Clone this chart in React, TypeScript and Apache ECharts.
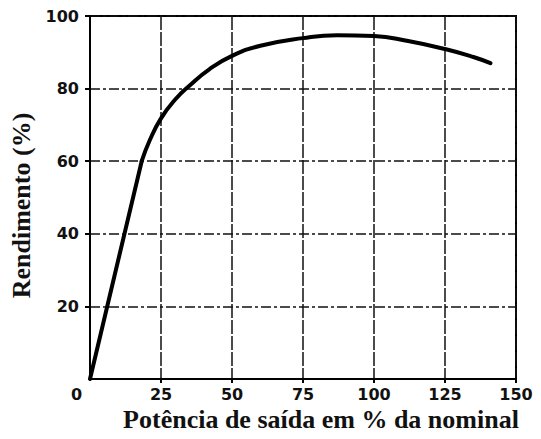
import React, { useEffect, useRef } from "react";
import * as echarts from "echarts";

const xTicks = [0, 25, 50, 75, 100, 125, 150];
const yTicks = [0, 20, 40, 60, 80, 100];
// straight rising portion
const potenciaReta = [0, 18.2];
const rendimentoReta = [0, 60];
// curved portion
const potenciaCurva = [18.2, 21, 25, 30, 35, 42, 50, 60, 75, 87, 100, 112, 125, 135, 141];
const rendimentoCurva = [60, 65.7, 71.8, 77, 80.8, 85.3, 89, 91.8, 93.9, 94.7, 94.5, 93.1, 90.9, 88.7, 87];

export default function App() {
  const ref = useRef<HTMLDivElement>(null);
  useEffect(() => {
    if (!ref.current) return;
    const chart = echarts.init(ref.current, undefined, { renderer: "svg" });
    const reta = potenciaReta.map((x, i) => [x, rendimentoReta[i]]);
    const curva = potenciaCurva.map((x, i) => [x, rendimentoCurva[i]]);
    chart.setOption({
      animation: false,
      backgroundColor: "#fff",
      grid: {
        left: 90,
        right: 25,
        top: 16,
        bottom: 60,
        show: true,
        borderColor: "#000",
        borderWidth: 2,
        backgroundColor: "transparent",
      },
      xAxis: {
        type: "value",
        min: 0,
        max: 150,
        interval: 25,
        name: "Potência de saída em % da nominal",
        nameLocation: "middle",
        nameGap: 24,
        nameTextStyle: {
          fontFamily: "Liberation Serif",
          fontWeight: "bold",
          fontSize: 26,
          color: "#111",
          verticalAlign: "top",
          padding: [0, 0, 0, 36],
        },
        axisLine: { show: true, lineStyle: { color: "#000", width: 2 } },
        axisTick: { show: true, length: 4, lineStyle: { color: "#000", width: 2 } },
        axisLabel: {
          margin: 7,
          color: "#111",
          fontFamily: "DejaVu Sans",
          fontWeight: "bold",
          fontSize: 16,
          showMinLabel: false,
          formatter: (v: number) => (xTicks.includes(v) ? String(v) : ""),
        },
        splitLine: { show: true, lineStyle: { color: "#111", width: 1.5, type: [14, 2] } },
      },
      yAxis: {
        type: "value",
        min: 0,
        max: 100,
        interval: 20,
        name: "Rendimento (%)",
        nameLocation: "middle",
        nameGap: 52,
        nameTextStyle: {
          fontFamily: "Liberation Serif",
          fontWeight: "bold",
          fontSize: 26,
          color: "#111",
          padding: [0, 16, 0, 0],
        },
        axisLine: { show: true, lineStyle: { color: "#000", width: 2 } },
        axisTick: { show: true, length: 5, lineStyle: { color: "#000", width: 2 } },
        axisLabel: {
          margin: 11,
          color: "#111",
          fontFamily: "DejaVu Sans",
          fontWeight: "bold",
          fontSize: 16,
          showMinLabel: false,
          formatter: (v: number) => (yTicks.includes(v) ? String(v) : ""),
        },
        splitLine: { show: true, lineStyle: { color: "#111", width: 1.5, type: [10, 3, 3, 3] } },
      },
      graphic: [
        {
          type: "text",
          left: 71,
          top: 386,
          style: {
            text: "0",
            fill: "#111",
            font: "bold 16px 'DejaVu Sans'",
          },
        },
      ],
      series: [
        {
          type: "line",
          data: reta,
          showSymbol: false,
          smooth: false,
          lineStyle: { color: "#000", width: 4, cap: "round" },
        },
        {
          type: "line",
          data: curva,
          showSymbol: false,
          smooth: 0.5,
          lineStyle: { color: "#000", width: 4, cap: "round" },
        },
      ],
    });
    return () => chart.dispose();
  }, []);
  return <div ref={ref} style={{ width: 541, height: 439, position: "absolute", left: 0, top: 0 }} />;
}
